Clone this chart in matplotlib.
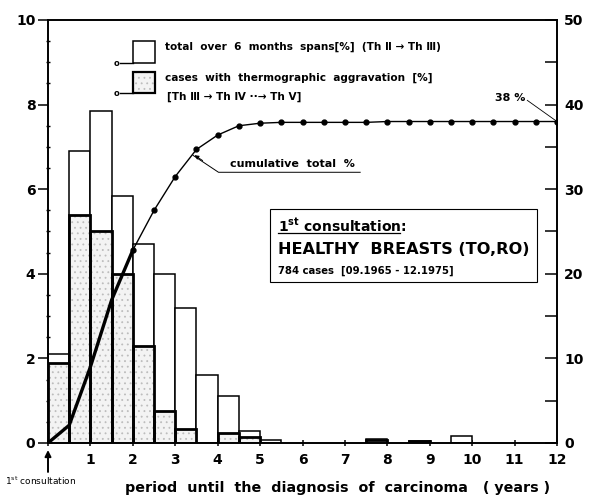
import matplotlib
matplotlib.use("Agg")
import matplotlib.pyplot as plt
from matplotlib.patches import Rectangle
import numpy as np

plt.rcParams['font.family'] = ['DejaVu Sans']
plt.rcParams['font.weight'] = 'bold'
plt.rcParams['hatch.linewidth'] = 0.6

# ---- data ----
bin_start = [0.0, 0.5, 1.0, 1.5, 2.0, 2.5, 3.0, 3.5, 4.0, 4.5, 5.0, 7.5, 8.5, 9.5]
total_pct = [2.1, 6.9, 7.85, 5.85, 4.7, 4.0, 3.2, 1.6, 1.1, 0.28, 0.07, 0.1, 0.05, 0.17]
aggr_pct = [1.9, 5.4, 5.0, 4.0, 2.3, 0.75, 0.33, 0.0, 0.24, 0.14, 0.0, 0.06, 0.05, 0.0]

cum_x = [0.0, 0.5, 1.0, 1.5, 2.0, 2.5, 3.0, 3.5, 4.0, 4.5, 5.0, 5.5, 6.0, 6.5, 7.0,
         7.5, 8.0, 8.5, 9.0, 9.5, 10.0, 10.5, 11.0, 11.5, 12.0]
cum_pct = [0.0, 2.1, 9.0, 16.9, 22.8, 27.5, 31.5, 34.7, 36.4, 37.5, 37.8, 37.9, 37.9, 37.9, 37.9,
           37.9, 38.0, 38.0, 38.0, 38.0, 38.0, 38.0, 38.0, 38.0, 38.0]

x_ticks = [0, 1, 2, 3, 4, 5, 6, 7, 8, 9, 10, 11, 12]
x_ticklabels = ['', '1', '2', '3', '4', '5', '6', '7', '8', '9', '10', '11', '12']
left_ticks = [0, 2, 4, 6, 8, 10]
right_ticks = [0, 10, 20, 30, 40, 50]

W, H = 593, 500
fig = plt.figure(figsize=(W / 100, H / 100), dpi=100)


def fx(px):
    return px / W


def fy(py):
    return 1 - py / H


ax = fig.add_axes([fx(48), fy(443), (557 - 48) / W, (443 - 20) / H])
ax.set_xlim(0, 12)
ax.set_ylim(0, 10)

# total bars (open)
ax.bar(bin_start, total_pct, width=0.5, align='edge', facecolor='white',
       edgecolor='black', linewidth=1.1, zorder=2)
# aggravation bars (stippled, heavy outline)
bs = np.array(bin_start)
ag = np.array(aggr_pct)
m = ag > 0
ax.bar(bs[m], ag[m], width=0.5, align='edge', facecolor='#f3f3f3',
       edgecolor='#bdbdbd', hatch='...', linewidth=0, zorder=3)
ax.bar(bs[m], ag[m], width=0.5, align='edge', facecolor='none',
       edgecolor='black', linewidth=2.0, zorder=4)

for s in ['left', 'bottom', 'top', 'right']:
    ax.spines[s].set_linewidth(1.2)

ax.set_xticks(x_ticks)
ax.set_xticklabels(x_ticklabels, fontsize=10, fontweight='bold')
ax.set_yticks(left_ticks)
ax.set_yticklabels([str(v) for v in left_ticks], fontsize=10, fontweight='bold')
ax.set_yticks(np.arange(0, 10.01, 0.5), minor=True)
ax.tick_params(axis='y', which='major', direction='out', length=7, width=1.1, pad=2)
ax.tick_params(axis='y', which='minor', direction='inout', length=3.5, width=1.0)
ax.tick_params(axis='x', which='major', direction='inout', length=5, width=1.1, pad=5)

# cumulative line on right axis
ax2 = ax.twinx()
ax2.set_ylim(0, 50)
ax2.set_xlim(0, 12)
ax2.set_yticks(right_ticks)
ax2.set_yticklabels([str(v) for v in right_ticks], fontsize=10, fontweight='bold')
ax2.set_yticks(np.arange(0, 50.1, 5), minor=True)
ax2.tick_params(axis='y', which='both', direction='in', length=9, width=1.1, pad=5)
for s in ['left', 'bottom', 'top', 'right']:
    ax2.spines[s].set_linewidth(1.2)

cx = np.array(cum_x)
cy = np.array(cum_pct)
k = cx <= 2.0
ax2.plot(cx[k], cy[k], color='black', linewidth=2.4, solid_capstyle='round', zorder=5)
ax2.plot(cx[cx >= 2.0], cy[cx >= 2.0], color='black', linewidth=1.0, marker='o',
         markersize=3.5, zorder=5)

# "cumulative total %" annotation
ax2.plot([3.42, 4.02, 7.36], [34.0, 32.0, 32.0], color='black', linewidth=0.7)
ax2.annotate('', xy=(3.40, 34.2), xytext=(3.7, 33.2),
             arrowprops=dict(arrowstyle='-|>', color='black', lw=0.7, mutation_scale=6))
ax2.text(4.3, 32.4, 'cumulative  total  %',
         fontsize=8, fontweight='bold', ha='left', va='bottom')

# "38 %" label
ax2.text(10.9, 40.2, '38 %', fontsize=8, fontweight='bold', ha='center', va='bottom')
ax2.plot([11.3, 12.0], [40.5, 38.0], color='black', linewidth=0.6)

# legend (figure coordinates)
fig.add_artist(Rectangle((fx(133), fy(63)), (155 - 133) / W, (63 - 41) / H,
                         transform=fig.transFigure, facecolor='white', edgecolor='black', lw=1.1))
fig.add_artist(Rectangle((fx(133), fy(93)), (155 - 133) / W, (93 - 72) / H,
                         transform=fig.transFigure, facecolor='#f3f3f3', edgecolor='#bdbdbd',
                         hatch='...', lw=0))
fig.add_artist(Rectangle((fx(133), fy(93)), (155 - 133) / W, (93 - 72) / H,
                         transform=fig.transFigure, facecolor='none', edgecolor='black', lw=1.6))
for yy in (63, 93):
    fig.add_artist(plt.Line2D([fx(120), fx(133)], [fy(yy), fy(yy)], transform=fig.transFigure,
                              color='black', lw=1.0))
    fig.text(fx(117), fy(yy), 'o', fontsize=6, ha='center', va='center')

fig.text(fx(165), fy(47), 'total  over  6  months  spans[%]  (Th Ⅱ → Th Ⅲ)',
         fontsize=7.6, fontweight='bold', ha='left', va='center')
fig.text(fx(165), fy(78), 'cases  with  thermographic  aggravation  [%]',
         fontsize=7.6, fontweight='bold', ha='left', va='center')
fig.text(fx(167), fy(97), '[Th Ⅲ → Th Ⅳ ··→ Th Ⅴ]',
         fontsize=7.6, fontweight='bold', ha='left', va='center')

# info box
fig.add_artist(Rectangle((fx(270), fy(282)), (537 - 270) / W, (282 - 209) / H,
                         transform=fig.transFigure, facecolor='white', edgecolor='black', lw=0.8,
                         zorder=6))
fig.text(fx(278), fy(226), r'$\mathbf{1^{st}}$ consultation:', fontsize=10, fontweight='bold',
         ha='left', va='center', zorder=7)
fig.add_artist(plt.Line2D([fx(278), fx(400)], [fy(233), fy(233)], transform=fig.transFigure,
                          color='black', lw=0.9, zorder=7))
fig.text(fx(278), fy(250), 'HEALTHY  BREASTS (TO,RO)', fontsize=11.6, fontweight='bold',
         ha='left', va='center', zorder=7)
fig.text(fx(278), fy(271), '784 cases  [09.1965 - 12.1975]', fontsize=7.3, fontweight='bold',
         ha='left', va='center', zorder=7)

# bottom annotations
ax.annotate('', xy=(0, -0.1), xytext=(0, -0.75), xycoords='data',
            arrowprops=dict(arrowstyle='-|>', color='black', lw=1.4, mutation_scale=9),
            annotation_clip=False)
fig.text(fx(5), fy(481), r'$\mathregular{1^{st}}$ consultation', fontsize=6.5,
         ha='left', va='center', fontweight='normal')
fig.text(fx(125), fy(488), 'period  until  the  diagnosis  of  carcinoma   ( years )',
         fontsize=10.3, fontweight='bold', ha='left', va='center')

fig.savefig('out.png', dpi=100)
